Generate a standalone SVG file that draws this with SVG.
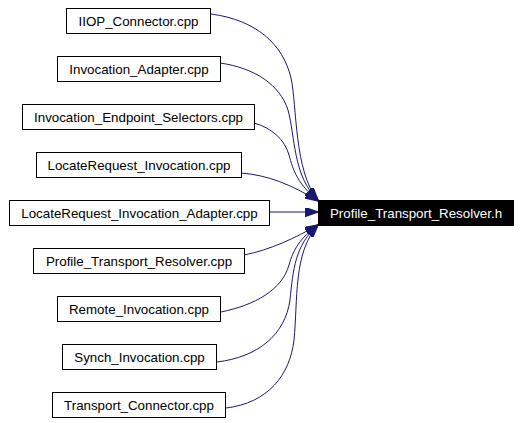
<svg xmlns="http://www.w3.org/2000/svg" width="522" height="423" viewBox="0 0 522 423">
<style>
.n rect{fill:#fff;stroke:#000;stroke-width:1}
.n text{font-family:"Liberation Sans",Arial,sans-serif;font-size:13.33px;text-anchor:middle;fill:#000}
#target rect{fill:#000}
#target text{fill:#fff}
.e path{fill:none;stroke:#191970;stroke-width:1;marker-end:url(#ah)}
</style>
<defs>
<marker id="ah" viewBox="0 0 10 7" refX="10" refY="3.5" markerWidth="13" markerHeight="9" markerUnits="userSpaceOnUse" orient="auto">
<polygon points="0,0 10,3.5 0,7" fill="#191970" stroke="#191970"/>
</marker>
</defs>
<rect width="522" height="423" fill="#fff"/>
<g class="e" id="edges">
<path d="M211,14 C256,20 283,44 291,78 C297,105 294,172 318,200"/>
<path d="M220,63 C255,68 280,85 288,110 C295,135 293,177 318,200"/>
<path d="M254,123 C272,128 285,140 289,155 C293,170 298,185 318,200"/>
<path d="M241,173 C268,175 292,185 318,201"/>
<path d="M269,212 L318,212"/>
<path d="M244,255 C270,250 295,238 318,225"/>
<path d="M221,312 C255,305 282,290 289,265 C293,250 300,238 318,225"/>
<path d="M217,362 C258,357 285,335 290,300 C293,270 295,245 318,225"/>
<path d="M226,408 C268,403 290,375 294,340 C298,300 293,253 318,225"/>
</g>
<g class="n" id="n1"><rect x="66.5" y="8.5" width="144" height="25"/><text x="138.5" y="25.5">IIOP_Connector.cpp</text></g>
<g class="n" id="n2"><rect x="57.5" y="56.5" width="163" height="25"/><text x="139" y="73.5">Invocation_Adapter.cpp</text></g>
<g class="n" id="n3"><rect x="22.5" y="104.5" width="232" height="25"/><text x="138.5" y="121.5">Invocation_Endpoint_Selectors.cpp</text></g>
<g class="n" id="n4"><rect x="36.5" y="152.5" width="205" height="25"/><text x="139" y="169.5">LocateRequest_Invocation.cpp</text></g>
<g class="n" id="n5"><rect x="9.5" y="200.5" width="260" height="25"/><text x="139.5" y="217.5">LocateRequest_Invocation_Adapter.cpp</text></g>
<g class="n" id="n6"><rect x="33.5" y="248.5" width="211" height="25"/><text x="139" y="265.5">Profile_Transport_Resolver.cpp</text></g>
<g class="n" id="n7"><rect x="57.5" y="296.5" width="163" height="25"/><text x="139" y="313.5">Remote_Invocation.cpp</text></g>
<g class="n" id="n8"><rect x="62.5" y="344.5" width="154" height="25"/><text x="139.5" y="361.5">Synch_Invocation.cpp</text></g>
<g class="n" id="n9"><rect x="52.5" y="392.5" width="173" height="25"/><text x="139" y="409.5">Transport_Connector.cpp</text></g>
<g class="n" id="target"><rect x="318.5" y="200.5" width="195" height="25"/><text x="416" y="217.5">Profile_Transport_Resolver.h</text></g>
</svg>
